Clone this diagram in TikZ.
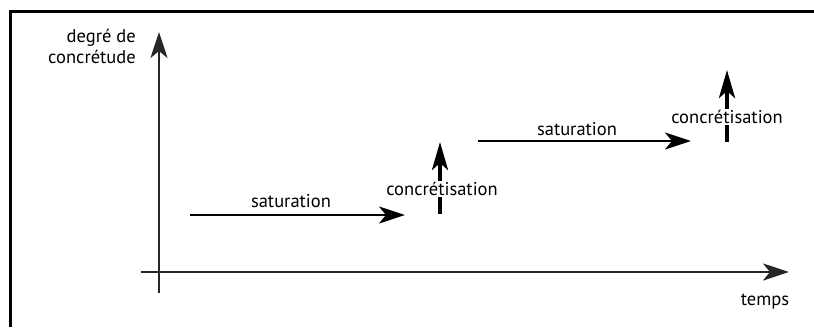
\documentclass[tikz,border=0pt]{standalone}
\usepackage{fontspec}
\setmainfont{PT Sans}
\usetikzlibrary{arrows.meta}
\begin{document}
\begin{tikzpicture}[x=1pt,y=-1pt,
  lbl/.style={font=\fontsize{18.5}{21}\selectfont, inner sep=1pt},
  axis/.style={line width=2.8pt, draw=black!85, fill=black!85, -{Stealth[length=26pt,width=17pt,inset=7pt]}},
  flow/.style={line width=2.6pt, -{Stealth[length=26pt,width=17pt,inset=7pt]}},
  jump/.style={line width=4pt, -{Stealth[length=28pt,width=16pt,inset=7pt]}}]
\useasboundingbox (0,0) rectangle (814,327);
\draw[line width=3pt] (10,327) -- (10,11) -- (814,11);
% axes
\coordinate (yb) at (159,293);
\coordinate (yt) at (159,32);
\coordinate (xl) at (141,272);
\coordinate (xr) at (789,272);
\draw[axis] (yb) -- (yt);
\draw[axis] (xl) -- (xr);
\node[lbl, anchor=east, align=right] (ylab) at (137,46) {degré de\\concrétude};
\node[lbl] (xlab) at (765,302) {temps};
% first step
\coordinate (s1a) at (190,215);
\coordinate (s1b) at (405,215);
\draw[flow] (s1a) -- (s1b);
\node[lbl] (sat1) at (291,201) {saturation};
\coordinate (c1a) at (440,214);
\coordinate (c1b) at (440,142);
\draw[jump] (c1a) -- (c1b);
\node[lbl, fill=white, inner sep=1.5pt] (con1) at (442,189) {concrétisation};
% second step
\coordinate (s2a) at (478,141);
\coordinate (s2b) at (691,141);
\draw[flow] (s2a) -- (s2b);
\node[lbl] (sat2) at (577,129) {saturation};
\coordinate (c2a) at (727,142);
\coordinate (c2b) at (727,70);
\draw[jump] (c2a) -- (c2b);
\node[lbl, fill=white, inner sep=1.5pt] (con2) at (727,117) {concrétisation};
\end{tikzpicture}
\end{document}
